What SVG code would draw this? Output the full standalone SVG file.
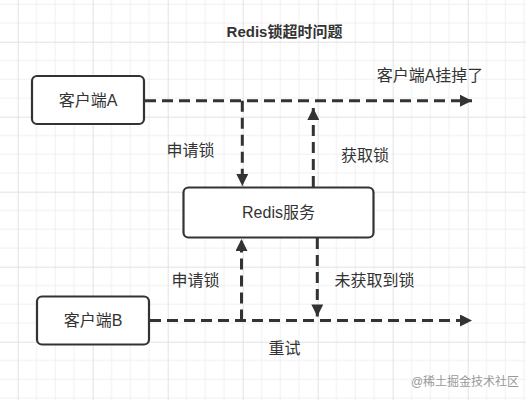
<svg xmlns="http://www.w3.org/2000/svg" width="526" height="400" viewBox="0 0 526 400">
<defs>
<pattern id="grid" patternUnits="userSpaceOnUse" x="17.7" y="41.7" width="75" height="75">
<path d="M18.75 0V75M37.5 0V75M56.25 0V75M0 18.75H75M0 37.5H75M0 56.25H75" stroke="#f0f0f0" stroke-width="1" fill="none"/>
<path d="M0.5 0V75M0 0.5H75" stroke="#e2e2e2" stroke-width="1" fill="none"/>
</pattern>
<marker id="arr" viewBox="0 0 10 10" refX="10" refY="5" markerWidth="5.3" markerHeight="4" markerUnits="strokeWidth" orient="auto">
<path d="M0 0L10 5L0 10Z" fill="#333"/>
</marker>
</defs>
<style>
.box{fill:#fff;stroke:#333;stroke-width:2.2}
.t{font-family:"Liberation Sans","Noto Sans CJK SC",sans-serif;font-size:16px;fill:#333;text-anchor:middle;dominant-baseline:central}
.c{fill:none;stroke:#333;stroke-width:3;stroke-dasharray:11 6}
</style>
<rect width="526" height="400" fill="#fff"/>
<rect width="526" height="400" fill="url(#grid)"/>
<text x="284.5" y="31.5" class="t" style="font-weight:bold;font-size:15px">Redis锁超时问题</text>
<g id="connectors">
<path class="c" d="M145 100.7H472" marker-end="url(#arr)"/>
<path class="c" d="M242.3 100.7V186" marker-end="url(#arr)"/>
<path class="c" d="M313.3 187V108" marker-end="url(#arr)"/>
<path class="c" d="M150 320.5H472" marker-end="url(#arr)"/>
<path class="c" d="M241.5 320.5V239" marker-end="url(#arr)"/>
<path class="c" d="M317.3 238V316.5" marker-end="url(#arr)"/>
</g>
<g id="clientA">
<rect class="box" x="32" y="76" width="112" height="48" rx="5"/>
<text class="t" x="88" y="100.5">客户端A</text>
</g>
<g id="redis">
<rect class="box" x="183.5" y="187.5" width="190" height="50" rx="5"/>
<text class="t" x="278.5" y="212.5">Redis服务</text>
</g>
<g id="clientB">
<rect class="box" x="37" y="296.5" width="112" height="48" rx="5"/>
<text class="t" x="93" y="320.5">客户端B</text>
</g>
<g id="labels">
<text class="t" x="430" y="75">客户端A挂掉了</text>
<text class="t" x="190.5" y="150">申请锁</text>
<text class="t" x="365" y="155">获取锁</text>
<text class="t" x="195.5" y="280">申请锁</text>
<text class="t" x="374.5" y="280">未获取到锁</text>
<text class="t" x="284.5" y="348">重试</text>
<text class="t" x="465" y="381.5" style="font-size:12px;fill:#999">@稀土掘金技术社区</text>
</g>
</svg>
